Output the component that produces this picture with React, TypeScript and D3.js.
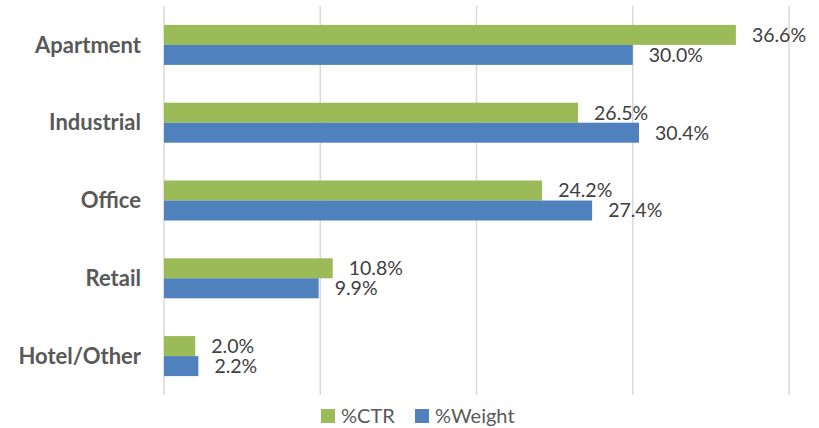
import * as d3 from "d3";
import { useEffect, useRef } from "react";

// categories top to bottom
const categories = ["Apartment", "Industrial", "Office", "Retail", "Hotel/Other"];
const seriesNames = ["%CTR", "%Weight"];
const ctrValues = [36.6, 26.5, 24.2, 10.8, 2.0];
const weightValues = [30.0, 30.4, 27.4, 9.9, 2.2];
const xTicks = [0, 10, 20, 30, 40];
const colors = ["#9BBB59", "#4F81BD"];

const W = 819;
const H = 428;
const FONT = "Lato, 'Open Sans', sans-serif";

const App = () => {
  const ref = useRef<SVGSVGElement | null>(null);

  useEffect(() => {
    const svg = d3.select(ref.current);
    svg.selectAll("*").remove();

    const margin = { top: 6, bottom: 33, left: 164, right: 30 };

    const x = d3.scaleLinear().domain([0, 40]).range([margin.left, W - margin.right]);
    const y = d3
      .scaleBand<string>()
      .domain(categories)
      .range([margin.top, H - margin.bottom])
      .paddingInner(0.486)
      .paddingOuter(0.243);
    const ySub = d3.scaleBand<string>().domain(seriesNames).range([0, y.bandwidth()]);

    // gridlines
    svg.append("g")
      .selectAll("line")
      .data(xTicks)
      .enter()
      .append("line")
      .attr("x1", d => x(d))
      .attr("x2", d => x(d))
      .attr("y1", margin.top)
      .attr("y2", H - margin.bottom)
      .attr("stroke", "#D9D9D9")
      .attr("stroke-width", 1.5);

    const rows = categories.map((c, i) => ({ c, vals: [ctrValues[i], weightValues[i]] }));

    const g = svg.append("g")
      .selectAll("g")
      .data(rows)
      .enter()
      .append("g")
      .attr("transform", d => `translate(0, ${y(d.c)})`);

    seriesNames.forEach((s, si) => {
      g.append("rect")
        .attr("x", x(0))
        .attr("y", ySub(s)!)
        .attr("width", d => x(d.vals[si]) - x(0))
        .attr("height", ySub.bandwidth())
        .attr("fill", colors[si]);

      g.append("text")
        .attr("x", d => x(d.vals[si]) + 16)
        .attr("y", ySub(s)! + ySub.bandwidth() / 2)
        .attr("dy", "0.35em")
        .attr("font-family", FONT)
        .attr("font-size", 19.5)
        .attr("fill", "#404040")
        .text(d => d.vals[si].toFixed(1) + "%");
    });

    // category labels
    svg.append("g")
      .selectAll("text")
      .data(categories)
      .enter()
      .append("text")
      .attr("x", 141)
      .attr("y", d => y(d)! + y.bandwidth() / 2)
      .attr("dy", "0.35em")
      .attr("text-anchor", "end")
      .attr("font-family", FONT)
      .attr("font-weight", "bold")
      .attr("font-size", 22)
      .attr("fill", "#595959")
      .text(d => d);

    // legend
    const legendX = [321, 415];
    const lg = svg.append("g")
      .selectAll("g")
      .data(seriesNames)
      .enter()
      .append("g")
      .attr("transform", (d, i) => `translate(${legendX[i]}, 409)`);
    lg.append("rect")
      .attr("width", 14)
      .attr("height", 14)
      .attr("fill", (d, i) => colors[i]);
    lg.append("text")
      .attr("x", 20)
      .attr("y", 7)
      .attr("dy", "0.35em")
      .attr("font-family", FONT)
      .attr("font-size", 20)
      .attr("fill", "#595959")
      .text(d => d);
  }, []);

  return (
    <svg ref={ref} width={W} height={H} style={{ position: "absolute", left: 0, top: 0, background: "#fff" }}></svg>
  );
};

export default App;
